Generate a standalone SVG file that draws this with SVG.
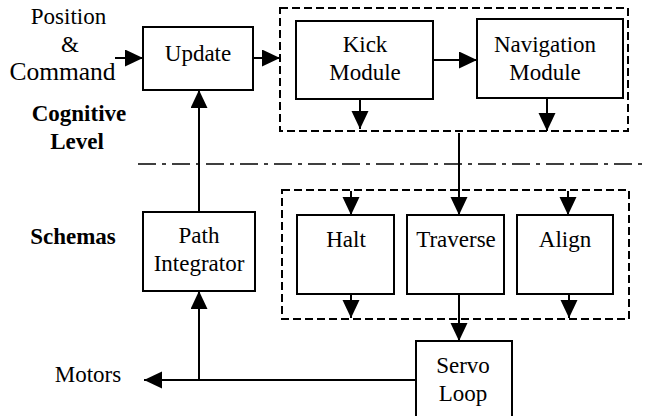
<svg xmlns="http://www.w3.org/2000/svg" width="648" height="416" viewBox="0 0 648 416">
<style>
  .box{fill:#fff;stroke:#000;stroke-width:2}
  .grp{fill:none;stroke:#000;stroke-width:2;stroke-dasharray:8 4}
  text{font-family:'Liberation Serif','Times New Roman',Times,serif;font-size:23px;fill:#000;text-anchor:middle}
  .b{font-weight:bold}
  .big{font-size:25.5px}
  .c{fill:none;stroke:#000;stroke-width:2}
  .a{marker-end:url(#ah)}
</style>
<defs>
  <marker id="ah" markerUnits="userSpaceOnUse" markerWidth="18" markerHeight="18" refX="18" refY="8.5" orient="auto">
    <path d="M0,0 L18,8.5 L0,17 Z" fill="#000"/>
  </marker>
</defs>
<rect width="648" height="416" fill="#fff"/>

<g id="labels">
  <text x="68.5" y="24">Position</text>
  <text x="70" y="52">&amp;</text>
  <text class="big" x="62.5" y="80">Command</text>
  <text class="b" x="79" y="121">Cognitive</text>
  <text class="b" x="77" y="149">Level</text>
  <text class="b" x="73" y="244">Schemas</text>
  <text x="88" y="382">Motors</text>
</g>

<g id="cognitive-group"><rect class="grp" x="280" y="8" width="348" height="123"/></g>
<g id="schema-group"><rect class="grp" x="282" y="190" width="347" height="129"/></g>

<g id="update"><rect class="box" x="143" y="27" width="110" height="63"/><text x="198" y="61">Update</text></g>
<g id="kick"><rect class="box" x="296" y="21" width="137" height="78"/><text x="365" y="52">Kick</text><text x="365" y="80">Module</text></g>
<g id="navigation"><rect class="box" x="477" y="19" width="146" height="79"/><text x="545" y="52">Navigation</text><text x="545" y="80">Module</text></g>
<g id="path-integrator"><rect class="box" x="143" y="212" width="112" height="79"/><text x="199" y="243">Path</text><text x="199" y="271">Integrator</text></g>
<g id="halt"><rect class="box" x="297" y="215" width="97" height="79"/><text x="346" y="246.5">Halt</text></g>
<g id="traverse"><rect class="box" x="407" y="215" width="97" height="79"/><text x="456" y="246.5">Traverse</text></g>
<g id="align"><rect class="box" x="517" y="215" width="96" height="79"/><text x="565" y="246.5">Align</text></g>
<g id="servo"><rect class="box" x="416" y="341" width="96" height="80"/><text x="463" y="373">Servo</text><text x="463" y="401">Loop</text></g>

<g id="connectors">
  <line x1="138" y1="164" x2="645" y2="164" stroke="#000" stroke-width="1.5" stroke-dasharray="18 6 4 6"/>
  <line class="c a" x1="115" y1="58" x2="143" y2="58"/>
  <line class="c a" x1="253" y1="58" x2="280" y2="58"/>
  <line class="c a" x1="433" y1="60" x2="477" y2="60"/>
  <line class="c a" x1="360" y1="99" x2="360" y2="129"/>
  <line class="c a" x1="547" y1="98" x2="547" y2="131"/>
  <line class="c a" x1="459" y1="133" x2="459" y2="215"/>
  <line class="c a" x1="351" y1="191" x2="351" y2="215"/>
  <line class="c a" x1="568" y1="191" x2="568" y2="215"/>
  <line class="c a" x1="351" y1="294" x2="351" y2="318"/>
  <line class="c a" x1="569" y1="294" x2="569" y2="318"/>
  <line class="c a" x1="459" y1="294" x2="459" y2="341"/>
  <line class="c a" x1="416" y1="380" x2="144" y2="380"/>
  <line class="c a" x1="199" y1="380" x2="199" y2="291"/>
  <line class="c a" x1="199" y1="212" x2="199" y2="90"/>
</g>
</svg>
